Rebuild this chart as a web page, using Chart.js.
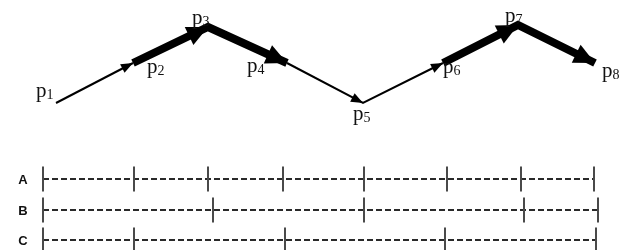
<!DOCTYPE html>
<html><head><meta charset="utf-8">
<style>html,body{margin:0;padding:0;background:#fff}canvas{display:block}</style>
<script src="https://cdn.jsdelivr.net/npm/chart.js@4/dist/chart.umd.min.js"></script>
</head><body>
<canvas id="c" width="621" height="250"></canvas>
<script>
// Path points p1..p8 (diagram coordinates)
const pointNames = ['1','2','3','4','5','6','7','8'];
const pointX = [56, 133, 208, 287, 363, 443, 518, 595];
const pointY = [103, 63, 27, 63, 103, 63, 25, 63];
// weight of each segment p(i) -> p(i+1)
const flowWeight = [1, 3, 3, 1, 1, 3, 3];
// rows of split marks
const rows = ['A', 'B', 'C'];
const rowY = [179, 210, 240];
const ticksA = [43, 134, 208, 283, 364, 447, 521, 594];
const ticksB = [43, 213, 364, 524, 598];
const ticksC = [43, 134, 285, 445, 596];
const rowTicks = [ticksA, ticksB, ticksC];

const labelOffset = [[-20,-6],[14,10],[-16,-3],[-40,9],[-10,17],[0,10],[-13,-3],[7,14]];

const pathData = pointX.map((v, i) => ({x: v, y: pointY[i]}));

const rowDatasets = rows.map((r, i) => ({
  label: r,
  data: rowTicks[i].map(v => ({x: v, y: rowY[i]})),
  borderColor: '#2a2a2a',
  borderWidth: 2,
  borderDash: [6, 3],
  pointStyle: 'line',
  rotation: 90,
  pointRadius: 12.5,
  pointBorderWidth: 2,
  pointBorderColor: '#4a4a4a',
  pointBackgroundColor: '#4a4a4a',
  clip: false
}));

const decor = {
  id: 'decor',
  afterDatasetsDraw(chart) {
    const {ctx, scales: {x, y}} = chart;
    ctx.save();
    // arrowheads
    for (let i = 0; i < pointX.length - 1; i++) {
      const x0 = x.getPixelForValue(pointX[i]), y0 = y.getPixelForValue(pointY[i]);
      const x1 = x.getPixelForValue(pointX[i+1]), y1 = y.getPixelForValue(pointY[i+1]);
      const a = Math.atan2(y1 - y0, x1 - x0);
      const thick = flowWeight[i] >= 2;
      const L = thick ? 21 : 12, W = thick ? 10 : 4.8;
      const bx = x1 - L * Math.cos(a), by = y1 - L * Math.sin(a);
      ctx.fillStyle = '#000';
      ctx.beginPath();
      ctx.moveTo(x1, y1);
      ctx.lineTo(bx + W * Math.sin(a), by - W * Math.cos(a));
      ctx.lineTo(bx - W * Math.sin(a), by + W * Math.cos(a));
      ctx.closePath();
      ctx.fill();
    }
    // point labels
    ctx.fillStyle = '#111';
    ctx.textBaseline = 'alphabetic';
    ctx.textAlign = 'left';
    pointNames.forEach((n, i) => {
      const px = x.getPixelForValue(pointX[i]) + labelOffset[i][0];
      const py = y.getPixelForValue(pointY[i]) + labelOffset[i][1];
      ctx.font = '21px "Liberation Serif", "DejaVu Serif", serif';
      ctx.fillText('p', px, py);
      const w = ctx.measureText('p').width;
      ctx.font = '14px "Liberation Serif", "DejaVu Serif", serif';
      ctx.fillText(n, px + w, py + 2);
    });
    // row labels
    ctx.font = 'bold 13px "Liberation Sans", Arial, sans-serif';
    ctx.textAlign = 'center';
    ctx.textBaseline = 'middle';
    ctx.fillStyle = '#111';
    rows.forEach((r, i) => {
      ctx.fillText(r, 23, y.getPixelForValue(rowY[i]) + 1);
    });
    ctx.restore();
  }
};

new Chart(document.getElementById('c'), {
  type: 'line',
  data: {
    datasets: [{
      label: 'path',
      data: pathData,
      borderColor: '#000',
      borderWidth: 2,
      borderCapStyle: 'butt',
      borderJoinStyle: 'miter',
      pointRadius: 0,
      tension: 0,
      segment: {
        borderWidth: c => flowWeight[c.p0DataIndex] >= 2 ? 8 : 2
      },
      clip: false
    }, ...rowDatasets]
  },
  options: {
    responsive: false,
    animation: false,
    devicePixelRatio: 1,
    layout: {padding: 0, autoPadding: false},
    scales: {
      x: {type: 'linear', min: 0, max: 621, display: false},
      y: {type: 'linear', min: 0, max: 250, reverse: true, display: false}
    },
    plugins: {legend: {display: false}, tooltip: {enabled: false}}
  },
  plugins: [decor]
});
</script>
</body></html>
